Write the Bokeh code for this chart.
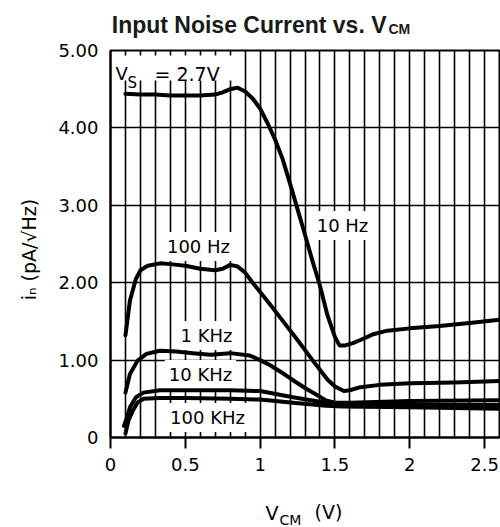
import math
from bokeh.plotting import figure
from bokeh.models import Label, FixedTicker, Range1d, BoxAnnotation
from bokeh.embed import file_html
from bokeh.resources import INLINE

# ---------------- data ----------------
x_10hz = [0.10, 0.20, 0.30, 0.40, 0.50, 0.60, 0.70, 0.75, 0.80, 0.85, 0.90, 0.95, 1.00, 1.05,
          1.10, 1.15, 1.20, 1.25, 1.30, 1.35, 1.40, 1.45, 1.50, 1.53, 1.57, 1.62, 1.67, 1.75,
          1.85, 2.00, 2.20, 2.40, 2.60]
y_10hz = [4.44, 4.43, 4.43, 4.42, 4.42, 4.42, 4.43, 4.46, 4.50, 4.52, 4.47, 4.38, 4.25, 4.06,
          3.85, 3.60, 3.28, 2.95, 2.62, 2.28, 1.96, 1.58, 1.30, 1.19, 1.19, 1.22, 1.26, 1.33,
          1.38, 1.41, 1.44, 1.48, 1.52]

x_100hz = [0.10, 0.13, 0.17, 0.20, 0.25, 0.33, 0.40, 0.50, 0.60, 0.70, 0.75, 0.80, 0.85, 0.90,
           0.95, 1.05, 1.15, 1.25, 1.35, 1.45, 1.50, 1.56, 1.60, 1.67, 1.80, 2.00, 2.30, 2.60]
y_100hz = [1.32, 1.77, 2.05, 2.16, 2.22, 2.25, 2.24, 2.22, 2.18, 2.16, 2.18, 2.23, 2.21, 2.13,
           2.00, 1.76, 1.51, 1.26, 1.00, 0.75, 0.66, 0.60, 0.61, 0.65, 0.68, 0.70, 0.71, 0.73]

x_1k = [0.10, 0.13, 0.18, 0.24, 0.33, 0.44, 0.55, 0.67, 0.80, 0.93, 1.00, 1.07, 1.16, 1.22,
        1.30, 1.38, 1.44, 1.50, 1.60, 2.00, 2.60]
y_1k = [0.58, 0.82, 0.99, 1.08, 1.12, 1.11, 1.09, 1.07, 1.09, 1.06, 1.00, 0.93, 0.82, 0.74,
        0.64, 0.55, 0.48, 0.45, 0.45, 0.47, 0.48]

x_10k = [0.09, 0.11, 0.13, 0.17, 0.22, 0.33, 0.50, 0.80, 1.00, 1.22, 1.44, 1.55, 2.00, 2.60]
y_10k = [0.15, 0.26, 0.39, 0.52, 0.58, 0.61, 0.61, 0.61, 0.60, 0.52, 0.45, 0.43, 0.42, 0.42]

x_100k = [0.10, 0.12, 0.15, 0.18, 0.22, 0.33, 0.50, 0.80, 1.00, 1.22, 1.44, 1.55, 2.00, 2.60]
y_100k = [0.05, 0.22, 0.35, 0.45, 0.50, 0.51, 0.51, 0.50, 0.49, 0.45, 0.41, 0.40, 0.39, 0.37]

curve_names = ["10 Hz", "100 Hz", "1 KHz", "10 KHz", "100 KHz"]

x_ticks = [0, 0.5, 1, 1.5, 2, 2.5]
x_tick_labels = ["0", "0.5", "1", "1.5", "2", "2.5"]
y_ticks = [0, 1, 2, 3, 4, 5]
y_tick_labels = ["0", "1.00", "2.00", "3.00", "4.00", "5.00"]

# ---------------- figure ----------------
FONT = "DejaVu Sans"
INK = "black"
p = figure(width=500, height=527, x_range=Range1d(0, 2.6), y_range=Range1d(0, 5),
           output_backend="svg", toolbar_location=None,
           min_border_left=110, min_border_right=1, min_border_top=50, min_border_bottom=90)

# page pixel -> data units, for placing the annotations
L, R, T, B = 110, 499, 50, 437
def dx(px):
    return (px - L) / (R - L) * 2.6
def dy(py):
    return (B - py) / (B - T) * 5.0

p.outline_line_color = INK
p.outline_line_width = 2
p.outline_line_alpha = 1
p.background_fill_color = "white"
p.border_fill_color = "white"

# grid
p.xgrid.ticker = FixedTicker(ticks=[round(0.1 * i, 1) for i in range(1, 26)])
p.ygrid.ticker = FixedTicker(ticks=[1, 2, 3, 4])
for g in (p.xgrid, p.ygrid):
    g.grid_line_color = INK
    g.grid_line_width = 1.6
    g.grid_line_alpha = 1

# axes
p.xaxis.ticker = FixedTicker(ticks=x_ticks)
p.xaxis.major_label_overrides = {t: s for t, s in zip(x_ticks, x_tick_labels)}
p.yaxis.ticker = FixedTicker(ticks=y_ticks)
p.yaxis.major_label_overrides = {t: s for t, s in zip(y_ticks, y_tick_labels)}
for ax in (p.xaxis, p.yaxis):
    ax.axis_line_color = INK
    ax.axis_line_width = 2
    ax.minor_tick_line_color = None
    ax.major_label_text_font = FONT
    ax.major_label_text_font_size = "18px"
    ax.major_label_text_color = INK
    ax.axis_label = None
p.xaxis.major_tick_out = 11
p.xaxis.major_tick_in = 0
p.xaxis.major_tick_line_width = 2
p.xaxis.major_tick_line_color = INK
p.xaxis.major_label_standoff = 9
p.yaxis.major_tick_line_color = None
p.yaxis.major_tick_out = 0
p.yaxis.major_tick_in = 0
p.yaxis.major_label_standoff = 12

# curve labels on white boxes (over the grid, under the curves)
label_pos = {"10 Hz": (342, 225), "100 Hz": (198, 246), "1 KHz": (206, 335),
             "10 KHz": (200, 374), "100 KHz": (207, 417)}
for name in curve_names:
    px, py = label_pos[name]
    p.add_layout(Label(x=dx(px), y=dy(py), text=name, text_align="center", text_baseline="middle",
                       text_font=FONT, text_font_size="18px", text_color=INK,
                       background_fill_color="white", padding=4, level="underlay"))

# V_S = 2.7V
p.add_layout(BoxAnnotation(left=dx(117), right=dx(237), top=dy(55), bottom=dy(80),
                           fill_color="white", fill_alpha=1, line_color=None, level="underlay"))
p.add_layout(Label(x=dx(115), y=dy(73), text="V", text_font=FONT, text_font_size="18px",
                   text_color=INK, text_baseline="alphabetic", text_align="left"))
p.add_layout(Label(x=dx(127), y=dy(82), text="S", text_font=FONT, text_font_size="15px",
                   text_color=INK, text_baseline="alphabetic", text_align="left"))
p.add_layout(Label(x=dx(154), y=dy(73), text="=  2.7V", text_font=FONT, text_font_size="19px",
                   text_color=INK, text_baseline="alphabetic", text_align="left"))

# curves
for xs, ys in ((x_10hz, y_10hz), (x_100hz, y_100hz), (x_1k, y_1k), (x_10k, y_10k), (x_100k, y_100k)):
    p.line(xs, ys, line_width=4, line_color=INK, line_join="round", line_cap="round")

# title (side panel: not clipped to the frame)
p.add_layout(Label(x=dx(386), y=dy(24), text="Input Noise Current vs. V", text_align="right",
                   text_baseline="alphabetic", text_font="Liberation Sans", text_font_style="bold",
                   text_font_size="23px", text_color="#1a1a1a"), "above")
p.add_layout(Label(x=dx(388), y=dy(28), text="CM", text_align="left",
                   text_baseline="alphabetic", text_font="Liberation Sans", text_font_style="bold",
                   text_font_size="14px", text_color="#1a1a1a"), "above")

# x axis label
p.add_layout(Label(x=dx(265), y=dy(512), text="V", text_font=FONT, text_font_size="19px",
                   text_color=INK, text_baseline="alphabetic", text_align="left"), "below")
p.add_layout(Label(x=dx(314), y=dy(511), text="(V)", text_font=FONT, text_font_size="19px",
                   text_color=INK, text_baseline="alphabetic", text_align="left"), "below")
p.add_layout(Label(x=dx(279), y=dy(519), text="CM", text_font=FONT, text_font_size="14px",
                   text_color=INK, text_baseline="alphabetic", text_align="left"), "left")

# y axis label (rotated)
p.add_layout(Label(x=dx(28), y=dy(246), text="iₙ  (pA/√Hz)", text_font=FONT, text_font_size="19px",
                   text_color=INK, text_baseline="alphabetic", text_align="center",
                   angle=math.pi / 2), "left")

open("out.html", "w").write(file_html(p, INLINE))
